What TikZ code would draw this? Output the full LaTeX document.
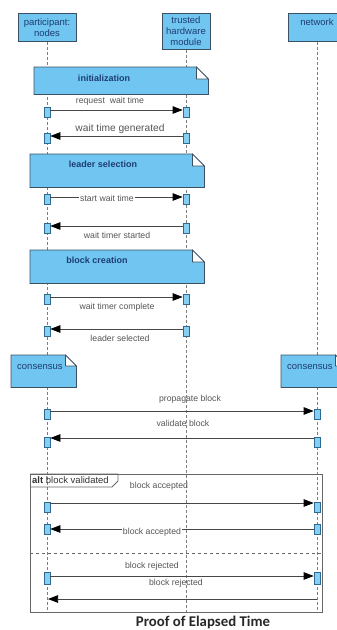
\documentclass[tikz,border=0pt]{standalone}
\usepackage{fontspec}
\setmainfont{Liberation Sans}
\newfontfamily\titlefont{Carlito}
\usetikzlibrary{arrows.meta}
\definecolor{bfill}{RGB}{112,198,240}
\definecolor{bedge}{RGB}{60,80,100}
\definecolor{btext}{RGB}{30,60,115}
\definecolor{mtext}{RGB}{85,85,85}
\definecolor{aedge}{RGB}{45,105,145}
\definecolor{lline}{RGB}{125,125,125}
\definecolor{mline}{RGB}{70,70,70}
\newcommand\notefold[2]{%
  \draw[noteshape] (#1.north west) -- ([xshift=-#2 pt]#1.north east) -- ([yshift=-#2 pt]#1.north east) -- (#1.south east) -- (#1.south west) -- cycle;
  \draw[noteshape,fill=white] ([xshift=-#2 pt]#1.north east) -- ([xshift=-#2 pt,yshift=-#2 pt]#1.north east) -- ([yshift=-#2 pt]#1.north east) -- cycle;}
\begin{document}
\begin{tikzpicture}[x=1pt,y=-1pt,
  head/.style={draw=bedge, fill=bfill, line width=0.8pt, text=btext, font=\fontsize{9.5}{11}\selectfont, align=center, inner sep=0pt, minimum width=58pt, anchor=north},
  life/.style={draw=lline, line width=0.8pt, dash pattern=on 3pt off 2pt},
  notebody/.style={inner sep=0pt, anchor=north west},
  noteshape/.style={draw=bedge, fill=bfill, line width=0.8pt},
  notelbl/.style={text=btext, font=\bfseries\fontsize{9}{11}\selectfont, inner sep=0pt},
  act/.style={draw=aedge, fill=bfill!85, line width=0.7pt, minimum width=6pt, minimum height=10pt, inner sep=0pt},
  msg/.style={draw=mline, line width=0.7pt, -{Triangle[length=10pt,width=7.5pt,color=black]}},
  lbl/.style={text=mtext, font=\fontsize{8.7}{10}\selectfont, inner sep=1pt},
  frame/.style={draw=black!60, line width=0.8pt}]
\useasboundingbox (0,0) rectangle (337,630);
\clip (0,0) rectangle (337,630);

% headers
\node[head, minimum height=28pt] (p) at (47,13) {participant:\\nodes};
\node[head, minimum width=48pt, minimum height=36pt] (t) at (186,13) {trusted\\hardware\\module};
\node[head, minimum height=28pt] (n) at (317,13) {network\\\mbox{}};

% lifelines
\coordinate (pe) at (47,612);
\coordinate (te) at (186,612);
\coordinate (ne) at (317,612);
\draw[life] (p) -- (pe);
\draw[life] (t) -- (te);
\draw[life] (n) -- (ne);

% notes
\node[notebody, minimum width=174pt, minimum height=27pt] (init) at (34,67) {};
\notefold{init}{12}
\node[notelbl] (initl) at (104,78) {initialization};

\node[notebody, minimum width=174pt, minimum height=33pt] (lead) at (30,154) {};
\notefold{lead}{12}
\node[notelbl] (leadl) at (103,164) {leader selection};

\node[notebody, minimum width=174pt, minimum height=33pt] (blk) at (30,250) {};
\notefold{blk}{12}
\node[notelbl] (blkl) at (97,260) {block creation};

\node[notebody, minimum width=65pt, minimum height=32pt] (cl) at (11,355) {};
\notefold{cl}{11}
\node[text=btext, font=\fontsize{9.5}{11}\selectfont, inner sep=0pt, anchor=west] (cll) at (17,367) {consensus};

\node[notebody, minimum width=65pt, minimum height=32pt] (cr) at (281,355) {};
\notefold{cr}{11}
\node[text=btext, font=\fontsize{9.5}{11}\selectfont, inner sep=0pt, anchor=west] (crl) at (287,367) {consensus};

% message 1
\node[act] (p1) at (47,112) {};
\node[act] (t1) at (186,112) {};
\draw[msg] ([yshift=2pt]p1.east) -- ([yshift=2pt]t1.west);
\node[lbl] (l1) at (110,101) {request\ \ wait time};

% message 2
\node[act] (p2) at (47,138) {};
\node[act] (t2) at (186,138) {};
\draw[msg] ([yshift=2pt]t2.west) -- ([yshift=2pt]p2.east);
\node[lbl, font=\fontsize{10.2}{12}\selectfont] (l2) at (120,129) {wait time generated};

% message 3
\node[act] (p3) at (47,199) {};
\node[act] (t3) at (186,199) {};
\draw[msg] ([yshift=2pt]p3.east) -- ([yshift=2pt]t3.west);
\node[lbl, fill=white] (l3) at (107,198) {start wait time};

% message 4
\node[act] (p4) at (47,228) {};
\node[act] (t4) at (186,228) {};
\draw[msg] ([yshift=2pt]t4.west) -- ([yshift=2pt]p4.east);
\node[lbl] (l4) at (117,235) {wait timer started};

% message 5
\node[act] (p5) at (47,299) {};
\node[act] (t5) at (186,299) {};
\draw[msg] ([yshift=2pt]p5.east) -- ([yshift=2pt]t5.west);
\node[lbl] (l5) at (117,307) {wait timer complete};

% message 6
\node[act] (p6) at (47,331) {};
\node[act] (t6) at (186,331) {};
\draw[msg] ([yshift=2pt]t6.west) -- ([yshift=2pt]p6.east);
\node[lbl] (l6) at (120,338) {leader selected};

% message 7
\node[act] (p7) at (47,414) {};
\node[act] (n7) at (317,414) {};
\draw[msg] ([yshift=3pt]p7.east) -- ([yshift=3pt]n7.west);
\node[lbl] (l7) at (190,399) {propagate block};

% message 8
\node[act] (p8) at (47,442) {};
\node[act] (n8) at (317,442) {};
\draw[msg] ([yshift=4pt]n8.west) -- ([yshift=4pt]p8.east);
\node[lbl] (l8) at (183,423) {validate block};

% alt frame
\node[frame, minimum width=292pt, minimum height=138pt, inner sep=0pt, anchor=north west] (alt) at (30,474) {};
\draw[frame] (alt.north west) -- ++(88,0) -- ++(0,7) -- ++(-6,6) -- ++(-82,0);
\node[anchor=west, font=\fontsize{9.5}{11}\selectfont, inner sep=0pt, text=black!80] (altl) at (32,480.5) {\textbf{alt} block validated};
\coordinate (sepl) at (30,553);
\coordinate (sepr) at (322,553);
\draw[frame, dashed] (sepl) -- (sepr);

% message 9
\node[act] (p9) at (47,507) {};
\node[act] (n9) at (317,507) {};
\draw[msg] ([yshift=4pt]p9.east) -- ([yshift=4pt]n9.west);
\node[lbl] (l9) at (159,486) {block accepted};

% message 10
\node[act] (p10) at (47,529) {};
\node[act] (n10) at (317,529) {};
\draw[msg] (n10.west) -- (p10.east);
\node[lbl, fill=white] (l10) at (152,532) {block accepted};

% message 11
\node[act, minimum height=12pt] (p11) at (47,578) {};
\node[act, minimum height=12pt] (n11) at (317,578) {};
\draw[msg] ([yshift=2pt]p11.east) -- ([yshift=2pt]n11.west);
\node[lbl] (l11) at (152,566) {block rejected};

% message 12
\coordinate (s12) at (317,599);
\coordinate (e12) at (48,599);
\draw[msg] (s12) -- (e12);
\node[lbl] (l12) at (176,583) {block rejected};

% title
\node[font=\titlefont\bfseries\fontsize{14.8}{17}\selectfont, text=black!85, inner sep=0pt] (title) at (203,622) {Proof of Elapsed Time};
\end{tikzpicture}
\end{document}
